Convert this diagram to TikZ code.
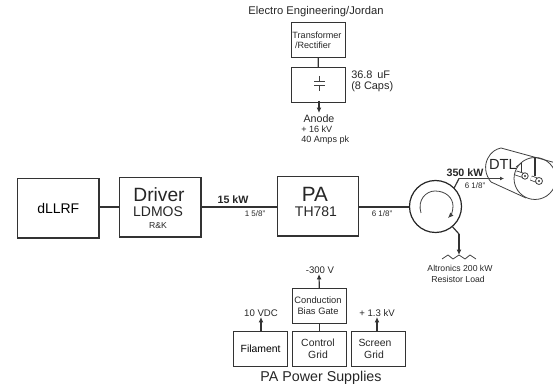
\documentclass[tikz,border=0pt]{standalone}
\usepackage{fontspec}
\setmainfont{Liberation Sans}
\usetikzlibrary{arrows.meta}
\newcommand{\fs}[1]{\fontsize{#1}{#1}\selectfont}
\begin{document}
\begin{tikzpicture}[x=0.75pt,y=-0.75pt,
  blk/.style={draw=black!80,line width=0.9pt,inner sep=0pt,align=center,anchor=north west},
  wire/.style={draw=black!80,line width=0.9pt},
  arr/.style={wire,-{Latex[length=4pt,width=3.6pt]}},
  lab/.style={inner sep=0pt,align=center,text=black!85},
  thin1/.style={draw=black!75,line width=0.6pt}]
\useasboundingbox (0,0) rectangle (553,384);
\clip (0,0) rectangle (553,384);
% main chain
\node[blk,minimum width=61pt,minimum height=44.5pt] (llrf) at (17,178) {\fs{10.5}dLLRF};
\node[blk,minimum width=61pt,minimum height=44.5pt] (drv) at (119,177) {};
\node[blk,minimum width=60.5pt,minimum height=44.5pt] (pa) at (277,176) {};
\node[lab] (t1) at (159,195) {\fs{14.4}Driver};
\node[lab] (t2) at (158,212) {\fs{10.5}LDMOS};
\node[lab] (t3) at (158,226) {\fs{6.5}R\&K};
\node[lab] (t4) at (315,194) {\fs{15.5}PA};
\node[lab] (t5) at (316,212) {\fs{10.5}TH781};
\draw[wire] (llrf.east |- 0,207) -- (drv.west |- 0,207);
\draw[wire] (drv.east |- 0,207) -- (pa.west |- 0,207);
\node[lab] (k15) at (233,200) {\fs{8}\textbf{15 kW}};
\node[lab] (s15) at (255,214) {\fs{6}1 5/8''};
% circulator
\node[draw=black!85,line width=0.9pt,circle,minimum size=39pt,inner sep=0pt] (circ) at (435.5,206.5) {};
\draw[wire] (pa.east |- 0,207) -- (circ.west |- 0,207);
\node[lab] (s61) at (382,214) {\fs{6}6 1/8''};
\draw[thin1,-{Latex[length=4pt,width=3.5pt]}] (421,213) .. controls (417,200) and (426,191) .. (435,191) .. controls (446,191) and (453,198) .. (453,206) .. controls (453,211) and (451,215) .. (448,218);
% output
\coordinate (o1) at (459,178.5);
\coordinate (o2) at (504,178.5);
\draw[wire] (circ.45) -- (o1);
\draw[thin1,-{Latex[length=3pt,width=3pt]}] (o1) -- (o2);
\node[lab] (k350) at (465,173) {\fs{8}\textbf{350 kW}};
\node[lab] (s350) at (475,186) {\fs{6}6 1/8''};
% DTL
\coordinate (d1) at (501,148);
\coordinate (d2) at (556,163);
\coordinate (d3) at (491,182);
\coordinate (d4) at (526,198);
\draw[thin1] (d1) -- (d2);
\draw[thin1] (d3) -- (d4);
\draw[thin1] (d3) .. controls (485,175) and (484,165) .. (488,158) .. controls (491,152) and (496,149) .. (d1);
\draw[thin1] (535,178.5) circle[radius=21];
\node[lab] (dtl) at (503,164) {\fs{11}DTL};
\draw[thin1] (516,167) -- (521.5,163);
\draw[wire] (521.5,163) -- (521.5,174);
\draw[wire] (535,157.5) -- (535,176);
\draw[black!75,line width=3.8pt] (516,173) -- (525,176);
\draw[white,line width=2.6pt] (516,173) -- (525,176);
\draw[thin1,fill=white] (525,176) circle (3.2);
\fill[black!80] (525,176) circle (0.8pt);
\draw[black!75,line width=3.8pt] (531,178) -- (539,181);
\draw[white,line width=2.6pt] (531,178) -- (539,181);
\draw[thin1,fill=white] (539,181) circle (3.5);
\fill[black!80] (539,181) circle (0.8pt);
% load
\coordinate (l1) at (459,234);
\coordinate (l2) at (459,255);
\draw[wire] (circ.-50) -- (l1);
\draw[arr] (l1) -- (l2);
\draw[thin1] (442,259) -- (448,255) -- (453,259) -- (459,255) -- (465,259) -- (470,255) -- (476,259);
\node[lab] (al1) at (460,268) {\fs{6.5}Altronics 200 kW};
\node[lab] (al2) at (458,279) {\fs{6.5}Resistor Load};
% top
\node[lab] (ee) at (316,12) {\fs{8.4}Electro Engineering/Jordan};
\node[blk,minimum width=40.5pt,minimum height=26pt] (tr) at (290.5,22) {};
\node[lab] (tr1) at (317,35) {\fs{6.8}Transformer};
\node[lab] (tr2) at (313,45) {\fs{6.8}/Rectifier};
\node[blk,minimum width=41pt,minimum height=26pt] (cap) at (290.5,67) {};
\draw[wire] (tr) -- (cap);
\draw[thin1] (319,76) -- (319,81);
\draw[thin1] (314,81) -- (325,81);
\draw[thin1] (314,85) -- (325,85);
\draw[thin1] (319,85) -- (319,91);
\node[lab,anchor=west] (uf) at (351,75) {\fs{8.2}36.8\, uF};
\node[lab,anchor=west] (c8) at (351,87) {\fs{8.2}(8 Caps)};
\coordinate (anc) at (319,113);
\draw[arr] (319,101) -- (anc);
\node[lab] (an) at (319,119) {\fs{8}Anode};
\node[lab,anchor=west] (v1) at (301,129) {\fs{6.8}+ 16 kV};
\node[lab,anchor=west] (v2) at (301,140) {\fs{6.8}40 Amps pk};
% bottom
\node[blk,minimum width=40.5pt,minimum height=26pt] (gate) at (292,288) {};
\node[lab] (g1) at (318,300) {\fs{7}Conduction};
\node[lab] (g2) at (318,311) {\fs{7}Bias Gate};
\node[blk,minimum width=40.5pt,minimum height=26pt] (fil) at (233,331) {\fs{7.8}Filament};
\node[blk,minimum width=40.5pt,minimum height=26pt] (ctl) at (292,331) {};
\node[lab] (c1) at (318,343) {\fs{7.8}Control};
\node[lab] (c2) at (318,355) {\fs{7.8}Grid};
\node[blk,minimum width=40.5pt,minimum height=26pt] (scr) at (351,331) {};
\node[lab] (s1) at (375,343) {\fs{7.8}Screen};
\node[lab] (s2) at (374,355) {\fs{7.8}Grid};
\draw[wire] (gate) -- (ctl);
\coordinate (a1) at (319,274);
\draw[arr] (gate) -- (a1);
\node[lab] (m3) at (320,270) {\fs{7.2}-300 V};
\coordinate (a2) at (261,317);
\draw[arr] (261,331) -- (a2);
\node[lab] (vd) at (261,313) {\fs{7.2}10 VDC};
\coordinate (a3) at (377,317);
\draw[arr] (377,331) -- (a3);
\node[lab] (kv) at (377,313) {\fs{7.2}+ 1.3 kV};
\node[lab] (pp) at (321,378) {\fs{10.7}PA Power Supplies};
\end{tikzpicture}
\end{document}
